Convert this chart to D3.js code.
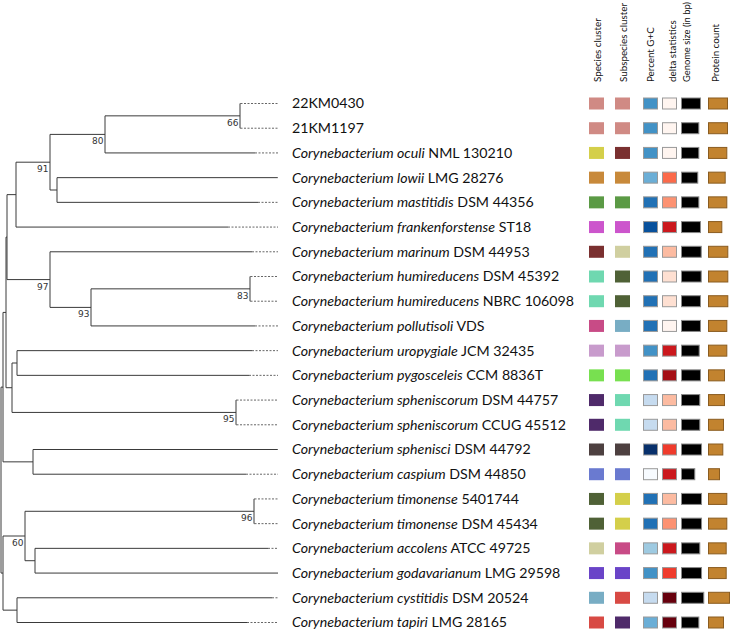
<!DOCTYPE html>
<html><head><meta charset="utf-8">
<script src="https://cdn.jsdelivr.net/npm/d3@7"></script>
<style>body{margin:0;background:#fff} svg{display:block}</style>
</head><body><svg id="chart" width="730" height="629"></svg>
<script>
// ---------- tree topology & branch depths ----------
const nodeIds = ["root","S2","S1","F","E","D","B","A","22KM0430","21KM1197","oculi","C","lowii","mastitidis","frankenforstense","G","marinum","H","I","humDSM","humNBRC","pollutisoli","L","J","uropygiale","pygosceleis","K","sphDSM","sphCCUG","M","sphenisci","caspium","Q","P","N","tim5401744","timDSM","O","accolens","godavarianum","R","cystitidis","tapiri"];
const nodeParents = ["","root","S2","S1","F","E","D","B","A","A","B","D","C","C","E","F","G","G","H","I","I","H","S1","L","J","J","L","K","K","S2","M","M","root","Q","P","N","N","P","O","O","Q","R","R"];
const nodeDepths = [0,0.002,0.005,0.006,0.015,0.049,0.104,0.239,0.2395,0.2395,0.254,0.056,0.276,0.257,0.227,0.049,0.251,0.090,0.249,0.2495,0.2495,0.254,0.011,0.016,0.251,0.248,0.235,0.2355,0.2355,0.032,0.276,0.245,0.002,0.024,0.253,0.2535,0.2535,0.034,0.267,0.277,0.016,0.271,0.246];
const bootNodes = ["A","B","D","G","H","I","K","N","P"];
const bootValues = [66,80,91,97,93,83,95,96,60];

// ---------- leaves (top to bottom) ----------
const leafIds = ["22KM0430","21KM1197","oculi","lowii","mastitidis","frankenforstense","marinum","humDSM","humNBRC","pollutisoli","uropygiale","pygosceleis","sphDSM","sphCCUG","sphenisci","caspium","tim5401744","timDSM","accolens","godavarianum","cystitidis","tapiri"];
const leafSpecies = ["","","Corynebacterium oculi","Corynebacterium lowii","Corynebacterium mastitidis","Corynebacterium frankenforstense","Corynebacterium marinum","Corynebacterium humireducens","Corynebacterium humireducens","Corynebacterium pollutisoli","Corynebacterium uropygiale","Corynebacterium pygosceleis","Corynebacterium spheniscorum","Corynebacterium spheniscorum","Corynebacterium sphenisci","Corynebacterium caspium","Corynebacterium timonense","Corynebacterium timonense","Corynebacterium accolens","Corynebacterium godavarianum","Corynebacterium cystitidis","Corynebacterium tapiri"];
const leafStrains = ["22KM0430","21KM1197","NML 130210","LMG 28276","DSM 44356","ST18","DSM 44953","DSM 45392","NBRC 106098","VDS","JCM 32435","CCM 8836T","DSM 44757","CCUG 45512","DSM 44792","DSM 44850","5401744","DSM 45434","ATCC 49725","LMG 29598","DSM 20524","LMG 28165"];

// ---------- annotation columns ----------
const columnTitles = ["Species cluster","Subspecies cluster","Percent G+C","delta statistics","Genome size (in bp)","Protein count"];
const clusterPalette = ["#d08a84","#d4cf4a","#c8893a","#5b9a45","#cc55cc","#7a3030","#6fd8b0","#c84b86","#c89bcc","#78e050","#4f2a6a","#4d4040","#6a7ad0","#4f6136","#d0cfa0","#6a44c8","#78adc4","#d84a44"];
const speciesCluster = [1,1,2,3,4,5,6,7,7,8,9,10,11,11,12,13,14,14,15,16,17,18];
const subspeciesCluster = [1,1,6,3,4,5,15,14,14,17,9,10,7,7,12,13,2,2,8,16,18,11];
const percentGC = [60.5,60.4,60.6,59.5,61.5,62.4,61.3,61.6,61.6,61.2,60.3,61.4,57.5,57.5,63.4,55.4,61.5,61.5,58.6,60.6,57.8,59.4];
const deltaStats = [0.105,0.106,0.108,0.19,0.17,0.23,0.15,0.13,0.13,0.109,0.23,0.25,0.15,0.15,0.21,0.23,0.15,0.17,0.23,0.21,0.27,0.27];
const genomeSize = [2530000,2310000,2310000,2170000,2310000,2530000,2630000,2630000,2530000,2530000,2360000,2530000,2440000,2440000,2670000,1770000,2670000,2670000,2440000,2670000,2970000,2310000];
const proteinCount = [2470,2470,2380,2170,2380,1730,2510,2510,2510,2380,2380,2080,2080,1950,1860,1430,2380,2380,2300,2300,2730,1950];

// ---------- build ----------
const svg = d3.select("#chart");
svg.append("rect").attr("width",730).attr("height",629).attr("fill","#fff");

const table = nodeIds.map((id,i)=>({id, parent: nodeParents[i]||null, depth: nodeDepths[i]}));
const root = d3.stratify().id(d=>d.id).parentId(d=>d.parent)(table);

const x = d3.scaleLinear().domain([0,0.277]).range([1,278]);
const tipX = x(0.277);
const y = d3.scaleLinear().domain([0,leafIds.length-1]).range([103.5,622.5]);

root.eachAfter(n=>{
  if(!n.children){ n.py = y(leafIds.indexOf(n.id)); }
  else { n.py = (n.children[0].py + n.children[n.children.length-1].py)/2; }
  n.px = x(n.data.depth);
});

const g = svg.append("g");
const lineColor = "#3a3a3a";
root.descendants().forEach(n=>{
  if(n.parent){
    g.append("line").attr("x1",n.parent.px).attr("x2",n.px).attr("y1",n.py).attr("y2",n.py)
      .attr("stroke",lineColor).attr("stroke-width",1);
  }
  if(n.children){
    g.append("line").attr("x1",n.px).attr("x2",n.px)
      .attr("y1",n.children[0].py).attr("y2",n.children[n.children.length-1].py)
      .attr("stroke",lineColor).attr("stroke-width",1);
  } else if(n.px < tipX-0.5){
    g.append("line").attr("x1",n.px).attr("x2",tipX).attr("y1",n.py).attr("y2",n.py)
      .attr("stroke","#666").attr("stroke-width",1).attr("stroke-dasharray","2,1.5");
  }
});

const nodeMap = new Map(root.descendants().map(n=>[n.id,n]));
bootNodes.forEach((id,i)=>{
  const n = nodeMap.get(id);
  g.append("text").attr("x",n.px-1.5).attr("y",n.py+10)
    .attr("text-anchor","end").attr("font-family","DejaVu Sans").attr("font-size",9)
    .attr("fill","#333").text(bootValues[i]);
});

leafIds.forEach((id,i)=>{
  const t = g.append("text").attr("x",292).attr("y",y(i)).attr("dy","0.35em")
    .attr("font-family","Lato").attr("font-size",14.2).attr("fill","#111");
  if(leafSpecies[i]){
    t.append("tspan").attr("font-style","italic").text(leafSpecies[i]);
    t.append("tspan").text(" "+leafStrains[i]);
  } else {
    t.append("tspan").text(leafStrains[i]);
  }
});

const colX = [589,615,643,662,681,708];
const headerX = [601,627,654,676,690,719];
const cellH = 12;
const clusterColor = d3.scaleOrdinal().domain(d3.range(1,clusterPalette.length+1)).range(clusterPalette);
const gcColor = d3.scaleQuantize().domain([55,64]).range(d3.schemeBlues[9]);
const deltaColor = d3.scaleQuantize().domain([0.10,0.28]).range(d3.schemeReds[9]);
const genomeW = d3.scaleLinear().domain([0,3000000]).range([0,22.5]);
const proteinW = d3.scaleLinear().domain([0,2600]).range([0,20]);

columnTitles.forEach((t,i)=>{
  const h = svg.append("text").attr("transform",`translate(${headerX[i]},82) rotate(-90)`)
    .attr("font-family","Lato").attr("font-size",9.8).attr("fill","#111").text(t);
  const len = h.node().getComputedTextLength();
  if(len > 80) h.attr("font-size", 9.8*80/len);
});

const cells = svg.append("g");
leafIds.forEach((id,i)=>{
  const cy = y(i) - cellH/2;
  cells.append("rect").attr("x",colX[0]).attr("y",cy).attr("width",15).attr("height",cellH)
    .attr("fill",clusterColor(speciesCluster[i]));
  cells.append("rect").attr("x",colX[1]).attr("y",cy).attr("width",15).attr("height",cellH)
    .attr("fill",clusterColor(subspeciesCluster[i]));
  cells.append("rect").attr("x",colX[2]+0.5).attr("y",cy+0.5).attr("width",14).attr("height",cellH-1)
    .attr("fill",gcColor(percentGC[i])).attr("stroke","#999");
  cells.append("rect").attr("x",colX[3]+0.5).attr("y",cy+0.5).attr("width",14).attr("height",cellH-1)
    .attr("fill",deltaColor(deltaStats[i])).attr("stroke","#999");
  cells.append("rect").attr("x",colX[4]+0.5).attr("y",cy+0.5).attr("width",genomeW(genomeSize[i])).attr("height",cellH-1)
    .attr("fill","#000").attr("stroke","#888");
  cells.append("rect").attr("x",colX[5]+0.5).attr("y",cy+0.5).attr("width",proteinW(proteinCount[i])).attr("height",cellH-1)
    .attr("fill","#c2832f").attr("stroke","#8a5c20");
});
</script></body></html>
